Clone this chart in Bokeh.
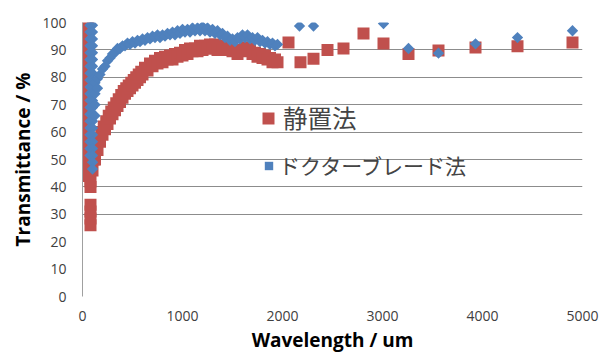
import numpy as np
from bokeh.plotting import figure
from bokeh.models import Legend, LegendItem, FixedTicker, Range1d
from bokeh.embed import file_html
from bokeh.resources import INLINE

# ---------------- data ----------------
series_names = ["静置法", "ドクターブレード法"]

# 静置法 (red squares)
red_spike_x = [80, 80, 80, 80, 80, 80,
               55, 55, 55, 55, 55, 55, 55, 55, 55, 55, 55, 55, 55, 55, 55, 55, 55, 55, 55, 55, 55, 55, 55]
red_spike_y = [26, 28.5, 31, 33.5, 40, 42,
               44, 46.5, 49, 51.5, 54, 56.5, 59, 61.5, 64, 66.5, 69, 71.5, 74, 76.5, 79, 81.5, 84, 86.5, 89,
               91.5, 94, 96.5, 99]
red_dense_x = [100, 112.5, 125, 137.5, 150, 162.5, 175, 187.5, 200, 212.5, 225, 237.5, 250, 262.5, 275, 287.5,
               300, 312.5, 325, 337.5, 350, 362.5, 375, 387.5, 400, 412.5, 425, 437.5, 450, 462.5, 475, 487.5,
               500, 512.5, 525, 537.5, 550, 562.5, 575, 587.5, 600,
               625, 650, 675, 700, 725, 750, 775, 800, 825, 850, 875, 900, 925, 950, 975, 1000, 1025, 1050, 1075,
               1100, 1125, 1150, 1175, 1200, 1225, 1250, 1275, 1300, 1325, 1350, 1375, 1400, 1425, 1450, 1475, 1500,
               1525, 1550, 1575, 1600, 1625, 1650, 1675, 1700, 1725, 1750, 1775, 1800, 1825, 1850, 1875, 1900, 1925, 1950]
red_dense_y = [46, 50, 50, 54, 53.5, 57, 56.5, 60, 59, 62,
               61, 64, 63, 66, 65, 67.5, 66.5, 69, 68, 70.5,
               69.5, 72, 71, 73.5, 72.5, 75, 74, 76, 75, 77,
               76, 78, 77, 79, 78, 80, 79, 81, 80, 82,
               81,
               83.5, 82.5, 85, 84, 86, 85, 87, 85.5, 87.5, 86.5,
               88, 86.5, 88.5, 87.5, 89, 88, 90, 88.5, 90.5, 89.5,
               90.5, 89.5, 91.5, 90, 91.5, 90.5, 92, 90.5, 92, 90,
               91.5, 90, 91.5, 90, 91, 89.5, 90, 88.5, 90, 89.5,
               91, 90.5, 90.5, 88.5, 89, 87.5, 88.5, 87, 88, 86.5,
               87, 85.5, 86.5, 85.5]
red_sparse_x = [2060, 2180, 2310, 2450, 2610, 2810, 3010, 3260, 3560, 3930, 4350, 4900]
red_sparse_y = [92.7, 85.5, 86.8, 90.0, 90.5, 96.0, 92.3, 88.5, 89.8, 90.9, 91.3, 92.7]

# ドクターブレード法 (blue diamonds)
blue_spike_x = [75, 75, 75, 75, 75, 75, 75, 75, 75, 75, 75, 75, 75, 75, 75, 75, 75, 75, 75, 75,
                100, 100, 100, 100, 100, 100, 100, 100, 100, 100, 100, 100, 100, 100, 100, 100, 100, 100, 100, 100,
                100, 100,
                125, 125, 125, 125, 150, 150]
blue_spike_y = [99, 96.5, 94, 91.5, 89, 86.5, 84, 81.5, 79, 76.5, 74, 71.5, 69, 66.5, 64, 61.5, 59, 56.5, 54, 51.5,
                99, 96.5, 94, 91.5, 89, 86.5, 84, 81.5, 79, 76.5, 74, 71.5, 69, 66.5, 64, 61.5, 59, 56.5, 54, 51.5,
                49, 46.5,
                66, 70, 74, 78, 76, 79.5]
blue_dense_x = [175, 200, 225, 250, 275, 300, 325, 350, 375, 400, 425, 450, 475, 500, 525, 550, 575, 600, 625, 650,
                675, 700, 725, 750, 775, 800, 825, 850, 875, 900, 925, 950, 975, 1000, 1025, 1050, 1075, 1100, 1125,
                1150, 1175, 1200, 1225, 1250, 1275, 1300, 1325, 1350, 1375, 1400, 1425, 1450, 1475, 1500, 1525, 1550,
                1575, 1600, 1625, 1650, 1675, 1700, 1725, 1750, 1775, 1800, 1825, 1850, 1875, 1900, 1925, 1950]
blue_dense_y = [81, 83, 84, 86, 87, 88.5, 89, 90.5, 90.5, 91.5,
                91.5, 92.5, 92, 93, 92.5, 93.5, 93, 94, 93.5, 94.5,
                94, 95, 94.5, 95.5, 94.5, 95.5, 95, 96, 95.5, 96.5,
                95.5, 97, 96, 97.5, 96.5, 97.5, 96.5, 98, 97, 98,
                97, 98.5, 97, 98, 96.5, 97.5, 96, 97, 95.5, 96,
                94.5, 95, 93.5, 94, 93, 94.5, 94, 95.5, 94.5, 95.5,
                94, 94.5, 93.5, 94.5, 93, 93.5, 92.5, 93, 92, 92.5,
                91.5, 92]
blue_sparse_x = [2170, 2310, 3010, 3260, 3560, 3930, 4350, 4900]
blue_sparse_y = [98.7, 98.7, 99.6, 90.5, 88.8, 92.2, 94.5, 97.0]

x_ticks = [0, 1000, 2000, 3000, 4000, 5000]
y_ticks = [0, 10, 20, 30, 40, 50, 60, 70, 80, 90, 100]
grid_levels = [30, 40, 50, 60, 70, 80, 90, 100]

red_x = red_spike_x + red_dense_x + red_sparse_x
red_y = red_spike_y + red_dense_y + red_sparse_y
blue_x = blue_spike_x + blue_dense_x + blue_sparse_x
blue_y = blue_spike_y + blue_dense_y + blue_sparse_y

RED = "#C0504D"
BLUE = "#4F81BD"

p = figure(width=599, height=358, x_range=Range1d(0, 5000), y_range=Range1d(0, 100),
           output_backend="svg", toolbar_location=None,
           min_border_left=82, min_border_right=17, min_border_top=22, min_border_bottom=62)
p.outline_line_color = None
p.background_fill_color = "white"
p.border_fill_color = "white"

p.xgrid.visible = False
p.ygrid.ticker = FixedTicker(ticks=grid_levels)
p.ygrid.grid_line_color = "#8c8c8c"
p.ygrid.grid_line_width = 1

p.yaxis.ticker = FixedTicker(ticks=y_ticks)
p.xaxis.ticker = FixedTicker(ticks=x_ticks)

for ax in (p.xaxis[0], p.yaxis[0]):
    ax.major_tick_out = 0
    ax.major_tick_in = 0
    ax.minor_tick_out = 0
    ax.minor_tick_in = 0
    ax.major_label_text_font = "Open Sans"
    ax.major_label_text_font_size = "14px"
    ax.major_label_text_color = "#404040"
    ax.axis_label_text_font = "Open Sans"
    ax.axis_label_text_font_style = "bold"
    ax.axis_label_text_font_size = "19px"
    ax.axis_label_text_color = "#000000"

p.xaxis.axis_line_color = None
p.xaxis.major_label_standoff = 14
p.xaxis.axis_label = "Wavelength / um"
p.xaxis.axis_label_standoff = 3

p.yaxis.axis_line_color = "#a0a0a0"
p.yaxis.major_label_standoff = 16
p.yaxis.axis_label = "Transmittance / %"
p.yaxis.axis_label_standoff = 3

r_red = p.scatter(red_x, red_y, marker="square", size=12, fill_color=RED, line_color=None)
r_blue = p.scatter(blue_x, blue_y, marker="square", angle=np.pi / 4, size=8, fill_color=BLUE, line_color=None)

leg1 = Legend(items=[LegendItem(label=series_names[0], renderers=[r_red])],
              location=(171, 161), glyph_width=30, glyph_height=30, label_height=30,
              label_standoff=-18, label_text_font="Noto Sans CJK JP", label_text_font_size="24.5px",
              background_fill_alpha=0, border_line_color=None, padding=0, margin=0, spacing=0)
leg2 = Legend(items=[LegendItem(label=series_names[1], renderers=[r_blue])],
              location=(176, 116), glyph_width=21, glyph_height=21, label_height=21,
              label_standoff=-1, label_text_font="Noto Sans CJK JP", label_text_font_size="21px",
              background_fill_alpha=0, border_line_color=None, padding=0, margin=0, spacing=0)
p.add_layout(leg1)
p.add_layout(leg2)

open("out.html", "w").write(file_html(p, INLINE))
